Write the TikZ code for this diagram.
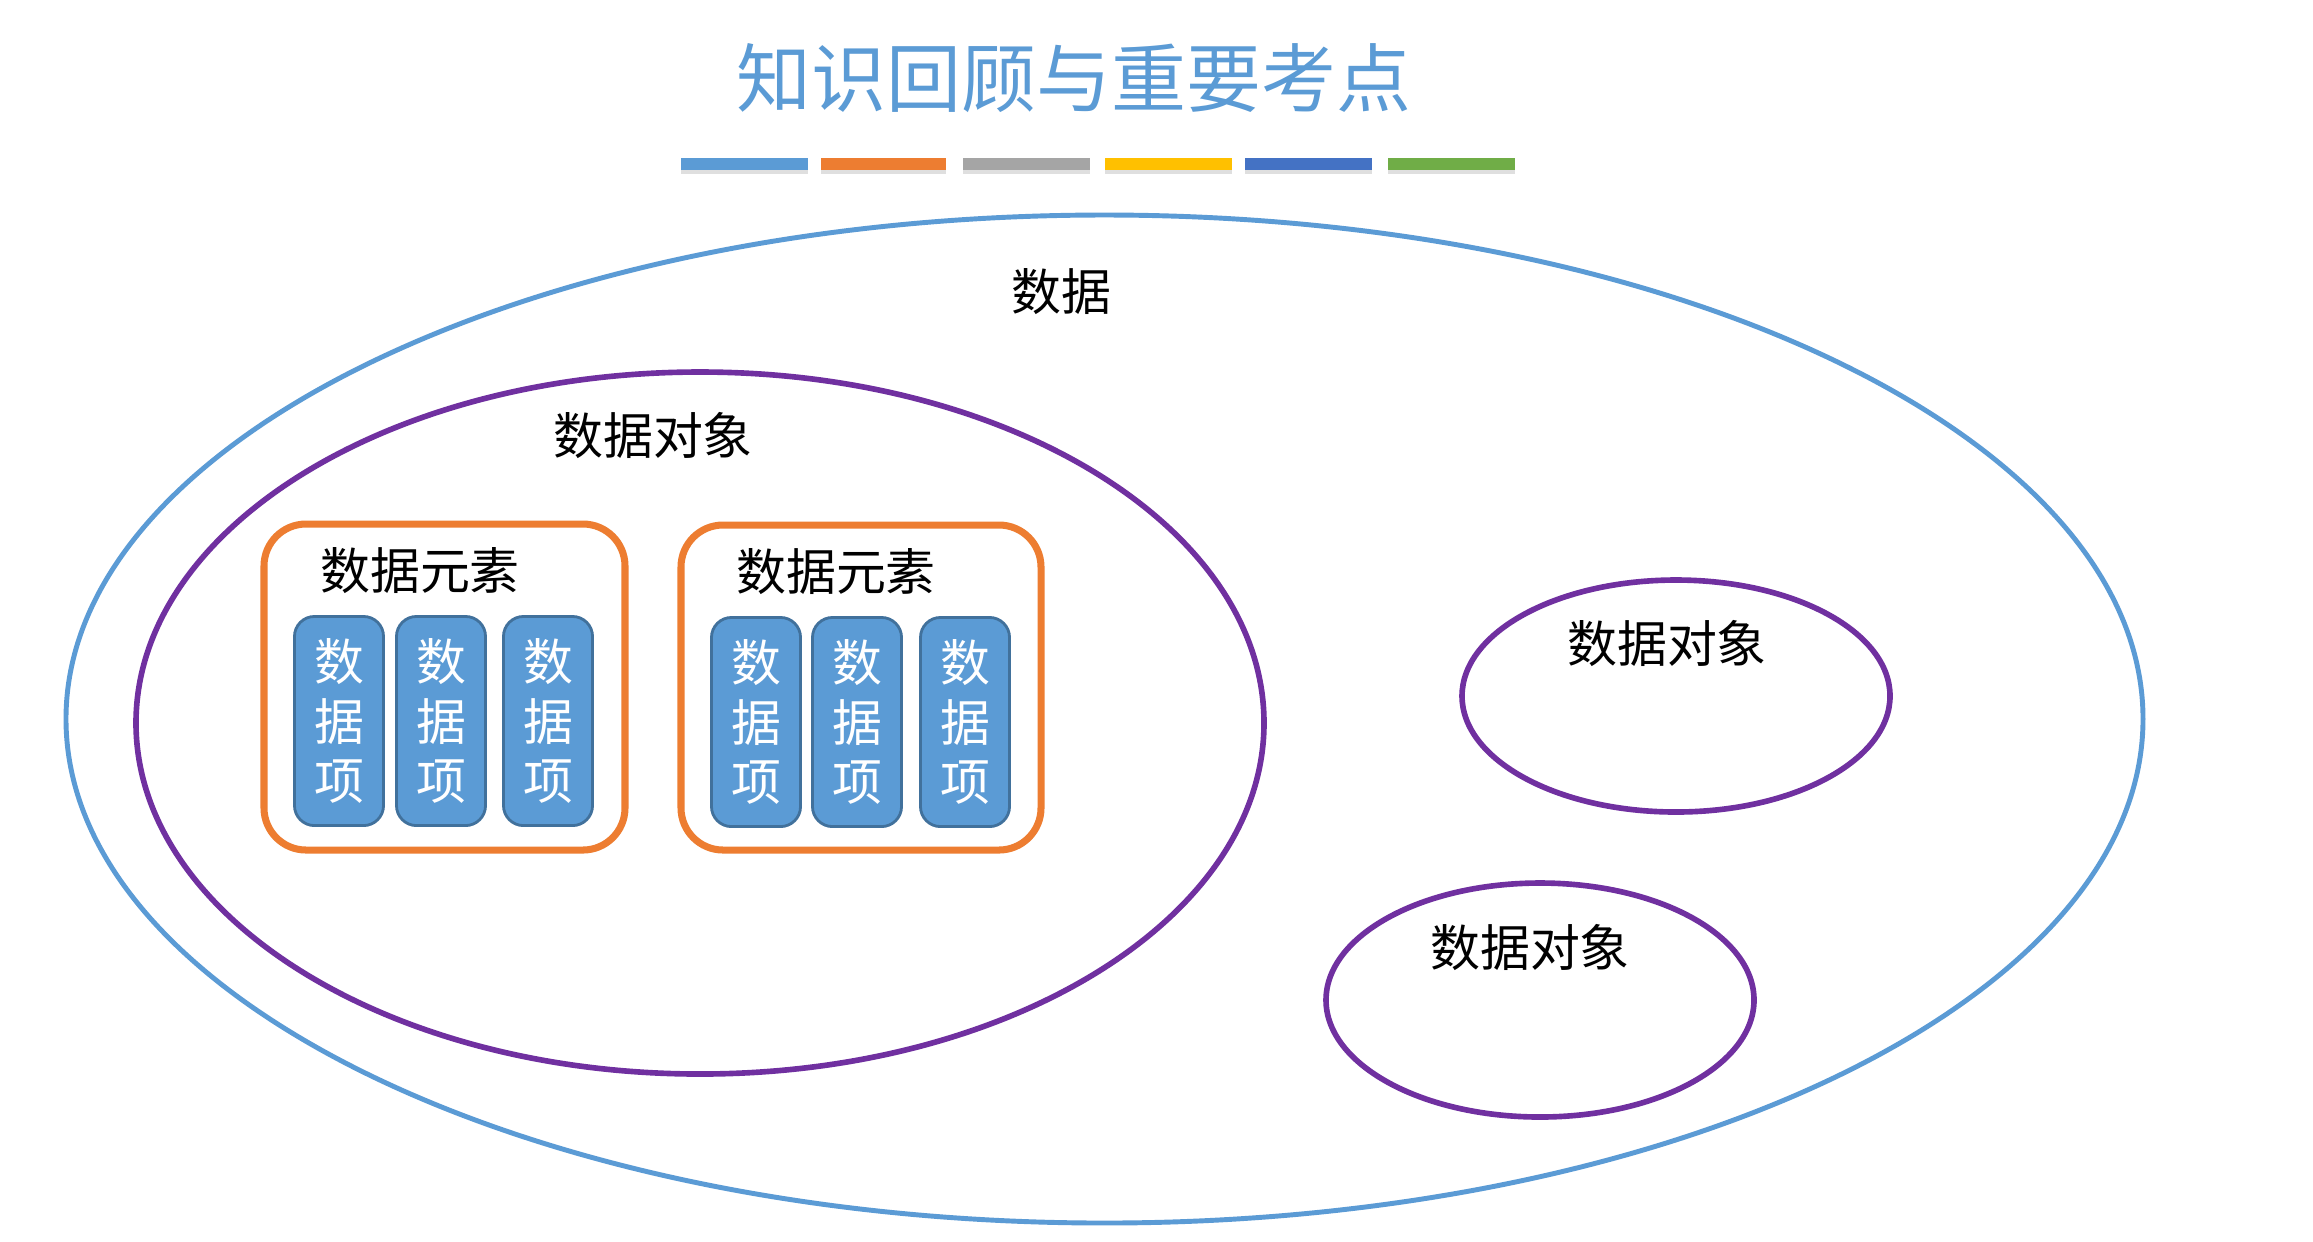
\documentclass[tikz,border=0pt]{standalone}
\usepackage{fontspec}
\setmainfont{Liberation Serif}
\newfontfamily\cjk{Noto Sans CJK SC}
\usetikzlibrary{shadows}
\definecolor{tblue}{HTML}{5B9BD5}
\definecolor{torange}{HTML}{ED7D31}
\definecolor{tgray}{HTML}{A5A5A5}
\definecolor{tgold}{HTML}{FFC000}
\definecolor{tdblue}{HTML}{4472C4}
\definecolor{tgreen}{HTML}{70AD47}
\definecolor{tpurple}{HTML}{7030A0}
\definecolor{tborder}{HTML}{41719C}
\tikzset{
  lbl/.style={inner sep=0pt, font=\cjk\fontsize{14.2}{17}\selectfont, text=black},
  titlelbl/.style={inner sep=0pt, font=\cjk\fontsize{21.3}{25}\selectfont, text=tblue},
  bar/.style={fill=#1, draw=none, drop shadow={shadow xshift=0pt, shadow yshift=-0.04cm, opacity=0.25}},
  outerell/.style={draw=tblue, line width=1.4pt},
  objell/.style={draw=tpurple, line width=1.6pt},
  elembox/.style={draw=torange, line width=2pt, rounded corners=0.42cm},
  itembox/.style={draw=tborder, line width=0.8pt, fill=tblue, rounded corners=0.2cm,
    minimum width=0.89cm, minimum height=2.09cm, inner sep=0pt, align=center,
    text=white, font=\cjk\fontsize{14.2}{17}\selectfont}
}
\begin{document}
\begin{tikzpicture}[x=0.01cm,y=-0.01cm]
\useasboundingbox (0,0) rectangle (2313,1241);
\fill[white] (0,0) rectangle (2313,1241);
% title
\node[titlelbl] (title) at (1074,78) {知识回顾与重要考点};
% color bars
\path[bar=tblue]   (681,158) rectangle (808,170);
\path[bar=torange] (821,158) rectangle (946,170);
\path[bar=tgray]   (963,158) rectangle (1090,170);
\path[bar=tgold]   (1105,158) rectangle (1232,170);
\path[bar=tdblue]  (1245,158) rectangle (1372,170);
\path[bar=tgreen]  (1388,158) rectangle (1515,170);
% outer ellipse
\draw[outerell] (1104.5,719) ellipse [x radius=1038.5, y radius=504];
\node[lbl] (data) at (1061,292) {数据};
% big data object
\draw[objell] (700,723) ellipse [x radius=564, y radius=351];
\node[lbl] (obj1) at (653,435) {数据对象};
% element boxes
\draw[elembox] (264,524) rectangle (625,850);
\node[lbl] (el1) at (420,571) {数据元素};
\node[itembox] (i11) at (339,721) {数\\据\\项};
\node[itembox] (i12) at (441,721) {数\\据\\项};
\node[itembox] (i13) at (548,721) {数\\据\\项};
\draw[elembox] (681,525) rectangle (1041,850);
\node[lbl] (el2) at (836,572) {数据元素};
\node[itembox] (i21) at (756,722) {数\\据\\项};
\node[itembox] (i22) at (857,722) {数\\据\\项};
\node[itembox] (i23) at (965,722) {数\\据\\项};
% small data objects
\draw[objell] (1676,696) ellipse [x radius=214, y radius=116];
\node[lbl] (obj2) at (1667,643) {数据对象};
\draw[objell] (1540,1000) ellipse [x radius=214, y radius=117];
\node[lbl] (obj3) at (1530,947) {数据对象};
\end{tikzpicture}
\end{document}
